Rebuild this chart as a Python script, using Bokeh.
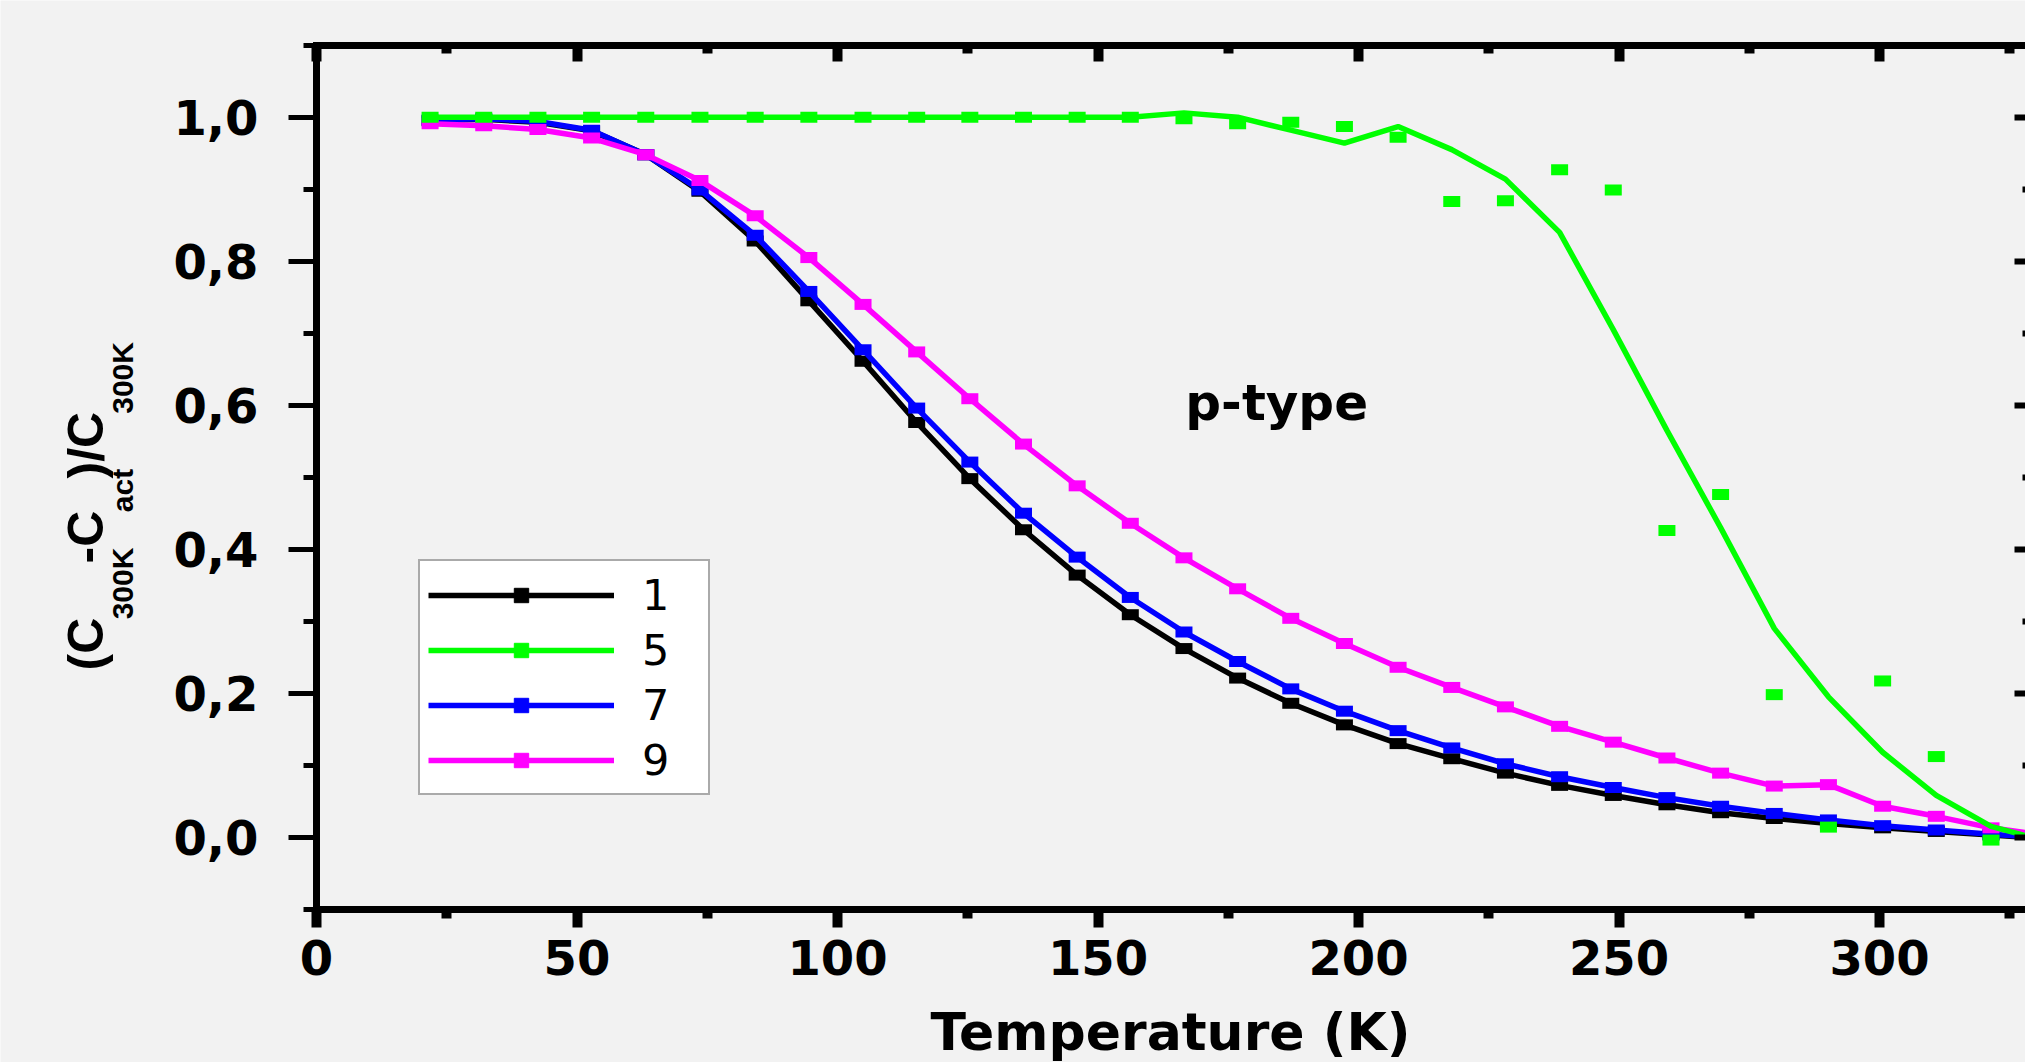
from math import pi, nan
from bokeh.plotting import figure
from bokeh.models import (Range1d, LinearAxis, FixedTicker, Legend, LegendItem,
                          Label, ColumnDataSource, CustomLabelingPolicy)
from bokeh.embed import file_html
from bokeh.resources import INLINE

# ---------------- data ----------------
temperature = [21.8, 32.1, 42.5, 52.8, 63.2, 73.6, 84.2, 94.5, 104.9, 115.2, 125.4,
               135.7, 146.0, 156.2, 166.5, 176.8, 187.0, 197.3, 207.6, 217.9, 228.2,
               238.6, 248.9, 259.2, 269.5, 279.8, 290.2, 300.6, 310.9, 321.4, 331.7]

sample_1 = [0.995, 0.997, 0.993, 0.981, 0.948, 0.897, 0.828, 0.745, 0.661, 0.576, 0.498,
            0.427, 0.364, 0.309, 0.262, 0.221, 0.186, 0.156, 0.130, 0.109, 0.089,
            0.072, 0.058, 0.045, 0.034, 0.026, 0.019, 0.013, 0.008, 0.003, -0.002]

sample_5_points = [1.0, 1.0, 1.0, 1.0, 1.0, 1.0, 1.0, 1.0, 1.0, 1.0, 1.0,
                   1.0, 1.0, 1.0, 0.998, 0.991, 0.993, 0.987, 0.972, 0.883, 0.884,
                   0.927, 0.899, 0.426, 0.476, 0.198, 0.014, 0.217, 0.112, -0.004, nan]

sample_5_fit = [1.0, 1.0, 1.0, 1.0, 1.0, 1.0, 1.0, 1.0, 1.0, 1.0, 1.0,
                1.0, 1.0, 1.0, 1.006, 1.0, 0.982, 0.964, 0.987, 0.955, 0.914,
                0.840, 0.705, 0.565, 0.430, 0.290, 0.195, 0.118, 0.058, 0.015, -0.005]

sample_7 = [0.996, 0.998, 0.994, 0.982, 0.948, 0.899, 0.836, 0.758, 0.677, 0.596, 0.521,
            0.450, 0.389, 0.333, 0.285, 0.244, 0.206, 0.175, 0.148, 0.124, 0.102,
            0.084, 0.069, 0.055, 0.043, 0.033, 0.024, 0.016, 0.010, 0.004, -0.001]

sample_9 = [0.991, 0.988, 0.983, 0.971, 0.948, 0.912, 0.863, 0.805, 0.740, 0.674, 0.609,
            0.546, 0.488, 0.436, 0.388, 0.345, 0.304, 0.269, 0.236, 0.208, 0.181,
            0.154, 0.132, 0.110, 0.089, 0.071, 0.073, 0.043, 0.029, 0.013, 0.003]

series_labels = ["1", "5", "7", "9"]
series_colors = ["#000000", "#00ff00", "#0000ff", "#ff00ff"]

x_ticks = [0, 50, 100, 150, 200, 250, 300]
x_minor_ticks = [25, 75, 125, 175, 225, 275, 325]
y_ticks = [0.0, 0.2, 0.4, 0.6, 0.8, 1.0]
y_tick_labels = ["0,0", "0,2", "0,4", "0,6", "0,8", "1,0"]
y_minor_ticks = [-0.1, 0.1, 0.3, 0.5, 0.7, 0.9, 1.1]

x_title = "Temperature (K)"
annotation_text = "p-type"

# ---------------- layout constants (pixels) ----------------
W, H = 2025, 1062
AX_LEFT_PX = 316.0          # x = 0
PX_PER_K = 5.21
Y1_PX = 116.7               # y = 1.0
PX_PER_UNIT = 720.0
X_AXIS_END = 329.2          # right border of the plotting box (just outside the picture)
Y_LO, Y_HI = -0.1, 1.1
BASE_SHIFT = 0.35           # em offset of Bokeh's alphabetic anchor

x_lo = -AX_LEFT_PX / PX_PER_K
x_hi = (W - AX_LEFT_PX) / PX_PER_K
y_hi = 1.0 + Y1_PX / PX_PER_UNIT
y_lo = y_hi - H / PX_PER_UNIT

BG = "#f2f2f2"
p = figure(width=W, height=H, output_backend="svg", toolbar_location=None,
           x_range=Range1d(x_lo, x_hi), y_range=Range1d(y_lo, y_hi),
           min_border=0, min_border_left=0, min_border_right=0,
           min_border_top=0, min_border_bottom=0)
p.background_fill_color = BG
p.border_fill_color = BG
p.outline_line_color = None
p.grid.visible = False

TICK_FONT = "DejaVu Sans"

xa = p.xaxis[0]
xa.fixed_location = Y_LO
xa.bounds = (0, x_hi)
xa.ticker = FixedTicker(ticks=x_ticks, minor_ticks=x_minor_ticks)
xa.axis_line_width = 7
xa.axis_line_color = "black"
xa.axis_line_cap = "square"
xa.major_tick_line_width = 10
xa.major_tick_out = 18
xa.major_tick_in = 0
xa.minor_tick_line_width = 10
xa.minor_tick_out = 9
xa.minor_tick_in = 0
xa.major_label_text_font = TICK_FONT
xa.major_label_text_font_style = "bold"
xa.major_label_text_font_size = "48px"
xa.major_label_text_color = "black"
xa.major_label_standoff = 13

ya = p.yaxis[0]
ya.fixed_location = 0
ya.bounds = (Y_LO, Y_HI)
ya.ticker = FixedTicker(ticks=y_ticks, minor_ticks=y_minor_ticks)
ya.major_label_overrides = dict(zip(y_ticks, y_tick_labels))
ya.axis_line_width = 7
ya.axis_line_color = "black"
ya.axis_line_cap = "square"
ya.major_tick_line_width = 5
ya.major_tick_out = 28
ya.major_tick_in = 0
ya.minor_tick_line_width = 5
ya.minor_tick_out = 13
ya.minor_tick_in = 0
ya.major_label_text_font = TICK_FONT
ya.major_label_text_font_style = "bold"
ya.major_label_text_font_size = "48px"
ya.major_label_text_color = "black"
ya.major_label_standoff = 30

top = LinearAxis(fixed_location=Y_HI, bounds=(0, x_hi),
                 ticker=FixedTicker(ticks=x_ticks, minor_ticks=x_minor_ticks),
                 major_label_policy=CustomLabelingPolicy(code="return []"),
                 axis_line_width=7, axis_line_cap="square",
                 major_tick_line_width=10, minor_tick_line_width=10,
                 major_tick_in=16, major_tick_out=0, minor_tick_in=8, minor_tick_out=0)
p.add_layout(top, "above")

right = LinearAxis(fixed_location=X_AXIS_END, bounds=(Y_LO, Y_HI),
                   ticker=FixedTicker(ticks=y_ticks, minor_ticks=y_minor_ticks),
                   major_label_policy=CustomLabelingPolicy(code="return []"),
                   axis_line_color=None, major_tick_line_width=6, minor_tick_line_width=6,
                   major_tick_in=17, major_tick_out=0, minor_tick_in=9, minor_tick_out=0)
p.add_layout(right, "right")

src = ColumnDataSource(dict(t=temperature, s1=sample_1, s5p=sample_5_points,
                            s5f=sample_5_fit, s7=sample_7, s9=sample_9))

LW = 5.5
MW, MH = 17, 11
items = {}

def connected(col, color, label):
    ln = p.line("t", col, source=src, line_color=color, line_width=LW)
    sc = p.scatter("t", col, source=src, marker="square", size=8,
                   fill_color=color, line_color=color)
    p.rect("t", col, width=MW, height=MH, width_units="screen", height_units="screen",
           source=src, fill_color=color, line_color=None)
    items[label] = [ln, sc]

connected("s1", series_colors[0], series_labels[0])
connected("s7", series_colors[2], series_labels[2])
connected("s9", series_colors[3], series_labels[3])

g_sc = p.scatter("t", "s5p", source=src, marker="square", size=8,
                 fill_color=series_colors[1], line_color=series_colors[1])
p.rect("t", "s5p", width=MW, height=MH, width_units="screen", height_units="screen",
       source=src, fill_color=series_colors[1], line_color=None)
g_ln = p.line("t", "s5f", source=src, line_color=series_colors[1], line_width=LW)
items[series_labels[1]] = [g_ln, g_sc]

legend = Legend(items=[LegendItem(label=lab, renderers=items[lab]) for lab in series_labels],
                location=(418, 267), padding=8, spacing=4, margin=0,
                glyph_width=186, glyph_height=36, label_height=51, label_width=58,
                label_standoff=28, label_text_font="DejaVu Sans",
                label_text_font_size="43px", label_text_color="black",
                border_line_color="#555555", border_line_width=2,
                background_fill_color="white", background_fill_alpha=1.0)
p.add_layout(legend)

# annotation inside plot
PT_SIZE = 50
pt_baseline_px = 420 - BASE_SHIFT * PT_SIZE
p.add_layout(Label(x=184.3, y=(1.0 + Y1_PX / PX_PER_UNIT) - pt_baseline_px / PX_PER_UNIT,
                   text=annotation_text, text_align="center",
                   text_baseline="alphabetic", text_font="DejaVu Sans",
                   text_font_style="bold", text_font_size=f"{PT_SIZE}px",
                   text_color="black"))

# x axis title
XT_SIZE = 52
p.add_layout(Label(x=1170, y=H - (1050 - BASE_SHIFT * XT_SIZE), x_units="screen",
                   y_units="screen", text=x_title,
                   text_align="center", text_baseline="alphabetic",
                   text_font="DejaVu Sans", text_font_style="bold",
                   text_font_size=f"{XT_SIZE}px", text_color="black"))

# y axis title with subscripts, composed of rotated pieces
adv = {"(": 0.333, "C": 0.722, "3": 0.556, "0": 0.556, "K": 0.722, "-": 0.333,
       "a": 0.556, "c": 0.556, "t": 0.333, ")": 0.333, "/": 0.278}
y_title_parts = [("(C", False), ("300K", True), ("-C", False), ("act", True),
                 (")/C", False), ("300K", True)]
MAIN, SUB = 50, 30
MAIN_BASE_X, SUB_BASE_X = 103, 132
TIGHT_MAIN, TIGHT_SUB = 0.97, 0.78
pos = H - 670.0
for txt, is_sub in y_title_parts:
    size = SUB if is_sub else MAIN
    base = (SUB_BASE_X if is_sub else MAIN_BASE_X) - BASE_SHIFT * size
    p.add_layout(Label(x=base, y=pos, x_units="screen",
                       y_units="screen", angle=pi / 2, text=txt,
                       text_font="Liberation Sans", text_font_style="bold",
                       text_font_size=f"{size}px", text_align="left",
                       text_baseline="alphabetic", text_color="black"))
    pos += sum(adv[ch] for ch in txt) * size * (TIGHT_SUB if is_sub else TIGHT_MAIN)

open("out.html", "w").write(file_html(p, INLINE))
